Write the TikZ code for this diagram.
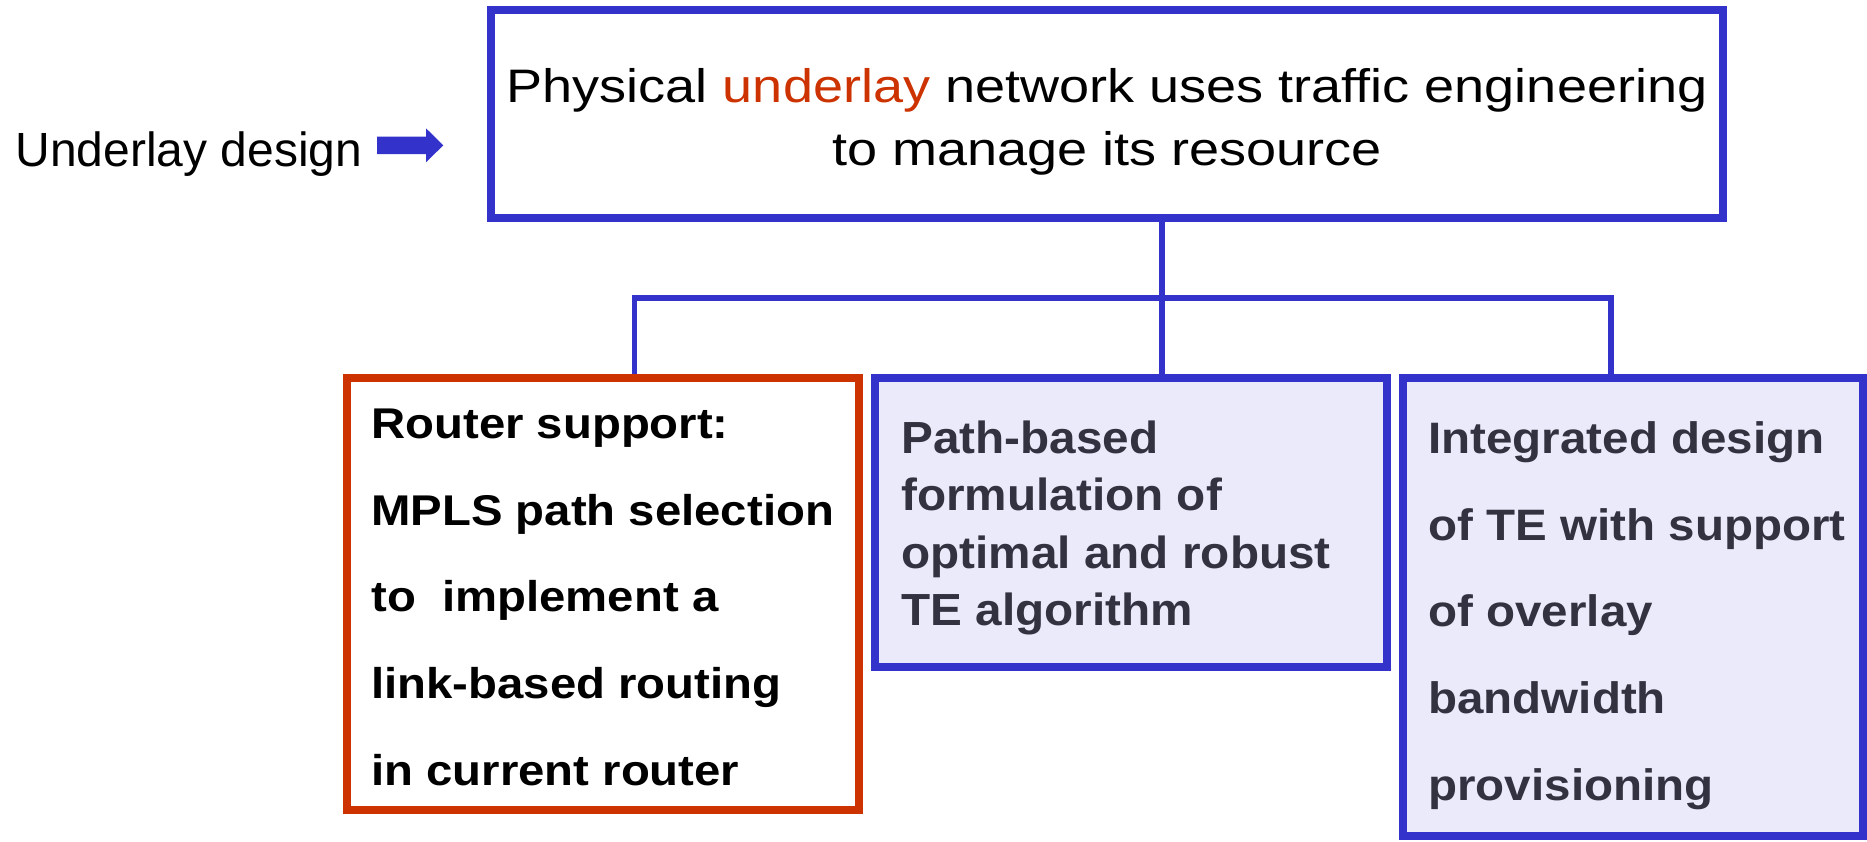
\documentclass[tikz,border=0pt]{standalone}
\usepackage{fontspec}
\setmainfont{Liberation Sans}
\newfontfamily\headfont[FakeStretch=1.15]{Liberation Sans}
\newfontfamily\routerfont[FakeStretch=1.1]{Liberation Sans}
\newfontfamily\pathfont[FakeStretch=1.06]{Liberation Sans}
\newfontfamily\integfont[FakeStretch=1.08]{Liberation Sans}

\definecolor{boxblue}{RGB}{51,51,204}
\definecolor{boxred}{RGB}{204,51,0}
\definecolor{panelfill}{RGB}{234,234,250}
\definecolor{panelink}{RGB}{50,50,64}

% lines stacked so that the node's baseline is the first line's baseline
\newcommand\centerlines[2]{\vtop{\baselineskip=#1\relax\halign{\hfil##\hfil\cr #2}}}
\newcommand\leftlines[2]{\vtop{\baselineskip=#1\relax\halign{##\hfil\cr #2}}}

\begin{document}
\begin{tikzpicture}[x=0.5pt,y=-0.5pt,
  panel/.style={draw, rectangle, line width=4pt, inner sep=0pt},
  bluepanel/.style={panel, draw=boxblue, fill=panelfill},
  label/.style={inner sep=0pt, anchor=base west},
  link/.style={draw=boxblue, line width=2.8pt, line join=miter}]
\useasboundingbox (0,0) rectangle (1867,841);

% boxes
\node[panel, draw=boxblue, fill=white, minimum width=616.4pt, minimum height=104.15pt]
  (top) at (1106.9,114.15) {};
\node[panel, draw=boxred, fill=white, minimum width=256.15pt, minimum height=216pt]
  (router) at (602.85,594) {};
\node[bluepanel, minimum width=256pt, minimum height=144.5pt]
  (pathbased) at (1131,522.5) {};
\node[bluepanel, minimum width=230pt, minimum height=229pt]
  (integrated) at (1633,607) {};

% texts
\node[inner sep=0pt, anchor=base, font={\headfont\fontsize{23.5}{31.65}\selectfont}]
  (toptext) at (1107,102)
  {\centerlines{31.65pt}{Physical {\color{boxred}underlay} network uses traffic engineering\cr
   to manage its resource\cr}};
\node[label, font={\fontsize{24}{28}\selectfont}] (design) at (15,166.7) {Underlay design};
\node[label, font={\routerfont\bfseries\fontsize{21.5}{43.35}\selectfont}]
  (routertext) at (371,438.3)
  {\leftlines{43.35pt}{Router support:\cr MPLS path selection\cr to\ \ implement a\cr
   link-based routing\cr in current router\cr}};
\node[label, text=panelink, font={\pathfont\bfseries\fontsize{22.5}{28.75}\selectfont}]
  (pathtext) at (901,453.3)
  {\leftlines{28.75pt}{Path-based\cr formulation of\cr optimal and robust\cr TE algorithm\cr}};
\node[label, text=panelink, font={\integfont\bfseries\fontsize{22}{43.35}\selectfont}]
  (integtext) at (1428,453.3)
  {\leftlines{43.35pt}{Integrated design\cr of TE with support\cr of overlay\cr
   bandwidth\cr provisioning\cr}};

% block arrow pointing at the top box
\fill[boxblue] (377,136.7) -- (426,136.7) -- (426,128.3) -- (443.3,145.3)
  -- (426,162.3) -- (426,154) -- (377,154) -- cycle;

% tree connectors
\coordinate (busL) at (634.5,298);
\coordinate (busM) at (1162,298);
\coordinate (busR) at (1611,298);
\draw[link] (busL |- router.north) -- (busL) -- (busR) -- (busR |- integrated.north);
\draw[link] (busM |- top.south) -- (busM |- pathbased.north);
\end{tikzpicture}
\end{document}
